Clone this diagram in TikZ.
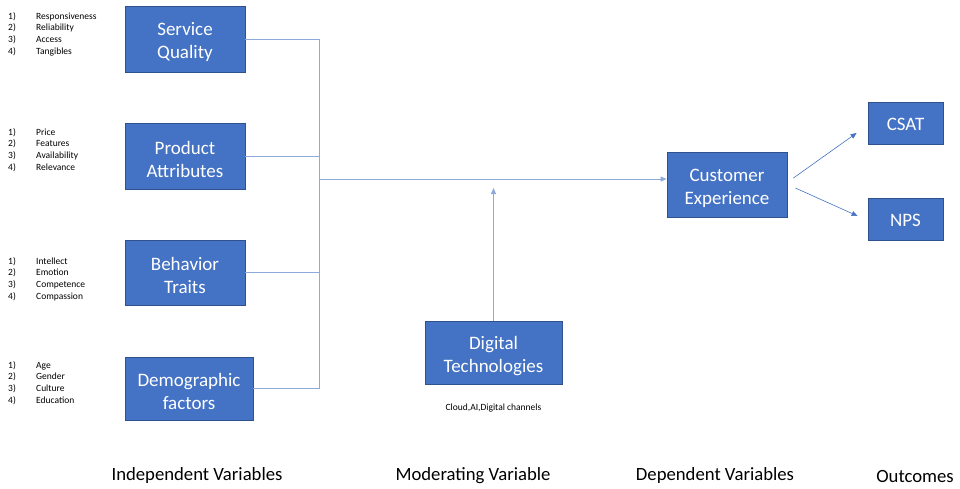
\documentclass[tikz,border=0pt]{standalone}
\usepackage{fontspec}
\setmainfont{Carlito}
\usetikzlibrary{arrows.meta,positioning,calc}
\definecolor{boxblue}{HTML}{4472C4}
\definecolor{boxedge}{HTML}{2F528F}
\definecolor{linkblue}{HTML}{8EA9DB}

\begin{document}
\begin{tikzpicture}[x=1pt, y=-1pt,
    box/.style={draw=boxedge, fill=boxblue, line width=0.8pt, text=white, align=center, inner sep=0pt,
      font=\fontsize{19}{23}\selectfont},
    block/.style={box, execute at begin node={\rule{0pt}{42.5pt}}},
    tag/.style={box, minimum width=75pt, minimum height=42pt, execute at begin node={\rule{0pt}{16pt}}},
    list/.style={anchor=north west, inner sep=0pt, column sep=20.3pt, row sep=3.2pt,
      nodes={anchor=west, inner sep=0pt, text height=6.5pt, text depth=2pt, font=\fontsize{9.5}{11}\selectfont}},
    link/.style={draw=linkblue, line width=1pt},
    arr/.style={draw=boxblue, line width=0.6pt, -{Triangle[length=6pt, width=5pt]}},
    heading/.style={font=\fontsize{18.7}{22}\selectfont}]
      \useasboundingbox (0,0) rectangle (960,488);

      \node[block, minimum width=120pt, minimum height=66pt] (sq) at (185,39) {Service\\Quality};
      \node[block, minimum width=120pt, minimum height=66pt] (pa) at (185,156) {Product\\Attributes};
      \node[block, minimum width=120pt, minimum height=65pt] (bt) at (185,272.5) {Behavior\\Traits};
      \node[block, minimum width=128pt, minimum height=63pt] (df) at (189,388.5) {Demographic\\factors};

      \matrix[list] (sq_items) at (8,12.5) {
        \node{1)}; & \node{Responsiveness}; \\
        \node{2)}; & \node{Reliability}; \\
        \node{3)}; & \node{Access}; \\
        \node{4)}; & \node{Tangibles}; \\
      };
      \matrix[list] (pa_items) at (8,128.5) {
        \node{1)}; & \node{Price}; \\
        \node{2)}; & \node{Features}; \\
        \node{3)}; & \node{Availability}; \\
        \node{4)}; & \node{Relevance}; \\
      };
      \matrix[list] (bt_items) at (8,257.5) {
        \node{1)}; & \node{Intellect}; \\
        \node{2)}; & \node{Emotion}; \\
        \node{3)}; & \node{Competence}; \\
        \node{4)}; & \node{Compassion}; \\
      };
      \matrix[list] (df_items) at (8,361.5) {
        \node{1)}; & \node{Age}; \\
        \node{2)}; & \node{Gender}; \\
        \node{3)}; & \node{Culture}; \\
        \node{4)}; & \node{Education}; \\
      };

      \node[block, minimum width=137pt, minimum height=63pt] (dt) at (493.5,352.5) {Digital\\Technologies};
      \node[below=16pt of dt, font=\fontsize{9.5}{11}\selectfont] (dt_note) {Cloud,AI,Digital channels};

      \node[block, minimum width=120pt, minimum height=65pt] (ce) at (727,184.5) {Customer\\Experience};
      \node[tag] (csat) at (905.5,123) {CSAT};
      \node[tag] (nps) at (905.5,219) {NPS};

      \coordinate (bus) at (319,179);
      \coordinate (mod) at (493.5,188);

      \draw[link] (sq.east) -| (bus);
      \draw[link] (pa.east) -| (bus);
      \draw[link] (bt.east) -| (bus);
      \draw[link] (df.east) -| (bus);
      \draw[link, -{Triangle[length=6pt, width=5pt]}, fill=boxblue] (bus) -- (bus -| ce.west);
      \draw[link, -{Triangle[length=6pt, width=5pt]}, fill=boxblue] (dt.north) -- (mod);

      \draw[arr] ($(ce.east) + (6,-6.5)$) -- ($(csat.west) + (-11,10)$);
      \draw[arr] ($(ce.east) + (8,3.5)$) -- ($(nps.west) + (-10,-3)$);

      \node[heading] (h_ind) at (197,476) {Independent Variables};
      \node[heading] (h_mod) at (473,476) {Moderating Variable};
      \node[heading] (h_dep) at (715,476) {Dependent Variables};
      \node[heading] (h_out) at (915,476) {Outcomes};
    \end{tikzpicture}
\end{document}
